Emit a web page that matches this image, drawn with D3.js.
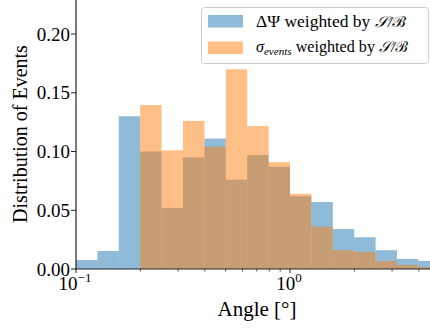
<!DOCTYPE html>
<html>
<head>
<meta charset="utf-8">
<style>
  body { margin: 0; background: #fff; }
</style>
</head>
<body>
<script src="https://cdn.jsdelivr.net/npm/d3@7"></script>
<script>
// bin edges (degrees), log-spaced
var binEdges = [0.1, 0.1259, 0.1585, 0.1995, 0.2512, 0.3162, 0.3981, 0.5012, 0.631,
                0.7943, 1.0, 1.2589, 1.5849, 1.9953, 2.5119, 3.1623, 3.9811, 5.0119];
var psiValues   = [0.0077, 0.0153, 0.130, 0.100, 0.052, 0.095, 0.111, 0.076, 0.097,
                   0.087, 0.062, 0.057, 0.034, 0.027, 0.016, 0.0085, 0.0068];
var sigmaValues = [0, 0, 0, 0.1395, 0.101, 0.126, 0.104, 0.170, 0.1216,
                   0.091, 0.064, 0.036, 0.016, 0.0145, 0.0068, 0.0034, 0.0017];
var yTicks = [0, 0.05, 0.10, 0.15, 0.20];
var xMajor = [0.1, 1];
var xMinor = [0.2, 0.3, 0.4, 0.5, 0.6, 0.7, 0.8, 0.9, 2, 3, 4];

var W = 430, H = 332;
var left = 76, bottom = 269;
var serif = "'Liberation Serif', 'Noto Serif', serif";

var x = d3.scaleLog().domain([0.1, 1]).range([left, 290]);
var y = d3.scaleLinear().domain([0, 0.2]).range([bottom, 34]);

var svg = d3.select('body').append('svg')
    .attr('width', W)
    .attr('height', H)
    .attr('font-family', serif);

svg.append('clipPath').attr('id', 'plot')
    .append('rect')
    .attr('x', left).attr('y', 0)
    .attr('width', W - left).attr('height', bottom);

var bars = svg.append('g').attr('clip-path', 'url(#plot)');

function drawHist(values, color) {
    bars.append('g')
        .selectAll('rect')
        .data(values)
        .enter()
        .append('rect')
        .attr('x', function(d, i) { return x(binEdges[i]); })
        .attr('width', function(d, i) { return x(binEdges[i + 1]) - x(binEdges[i]); })
        .attr('y', function(d) { return y(d); })
        .attr('height', function(d) { return y(0) - y(d); })
        .style('fill', color)
        .style('fill-opacity', 0.5);
}
drawHist(psiValues, '#1f77b4');
drawHist(sigmaValues, '#ff7f0e');

// spines
svg.append('line')
    .attr('x1', left).attr('x2', left)
    .attr('y1', 0).attr('y2', bottom + 0.5)
    .style('stroke', '#222').style('stroke-width', 1.2);
svg.append('line')
    .attr('x1', left - 0.5).attr('x2', W)
    .attr('y1', bottom).attr('y2', bottom)
    .style('stroke', '#222').style('stroke-width', 1.2);

// y axis
svg.selectAll('.ytick').data(yTicks).enter()
    .append('line')
    .attr('x1', left - 5).attr('x2', left)
    .attr('y1', function(d) { return y(d); })
    .attr('y2', function(d) { return y(d); })
    .style('stroke', '#222').style('stroke-width', 1);
svg.selectAll('.ylab').data(yTicks).enter()
    .append('text')
    .attr('x', left - 6)
    .attr('y', function(d) { return y(d) + 6.5; })
    .attr('text-anchor', 'end')
    .style('font-size', '19px')
    .text(function(d) { return d.toFixed(2); });

// x axis
svg.selectAll('.xmaj').data(xMajor).enter()
    .append('line')
    .attr('x1', function(d) { return x(d); })
    .attr('x2', function(d) { return x(d); })
    .attr('y1', bottom).attr('y2', bottom + 4)
    .style('stroke', '#222').style('stroke-width', 1);
svg.selectAll('.xmin').data(xMinor).enter()
    .append('line')
    .attr('x1', function(d) { return x(d); })
    .attr('x2', function(d) { return x(d); })
    .attr('y1', bottom).attr('y2', bottom + 2.5)
    .style('stroke', '#222').style('stroke-width', 0.8);

var xl = svg.selectAll('.xlab').data(xMajor).enter()
    .append('text')
    .attr('x', function(d) { return x(d) - 1; })
    .attr('y', 290)
    .attr('text-anchor', 'middle')
    .style('font-size', '19px');
xl.append('tspan').text('10');
xl.append('tspan')
    .attr('dy', -8)
    .style('font-size', '13px')
    .text(function(d) { return d < 1 ? '\u22121' : '0'; });

// axis labels
svg.append('text')
    .attr('x', 257).attr('y', 316)
    .attr('text-anchor', 'middle')
    .style('font-size', '21px')
    .text('Angle [\u00b0]');
svg.append('text')
    .attr('transform', 'translate(27,134) rotate(-90)')
    .attr('text-anchor', 'middle')
    .style('font-size', '20px')
    .text('Distribution of Events');

// legend
var lg = svg.append('g');
lg.append('rect')
    .attr('x', 201.5).attr('y', 7.5)
    .attr('width', 227).attr('height', 56)
    .attr('rx', 3)
    .style('fill', '#fff').style('fill-opacity', 0.8)
    .style('stroke', '#ccc').style('stroke-width', 1);
lg.append('rect')
    .attr('x', 208).attr('y', 15).attr('width', 35).attr('height', 12.5)
    .style('fill', '#1f77b4').style('fill-opacity', 0.5);
lg.append('rect')
    .attr('x', 208).attr('y', 41.5).attr('width', 35).attr('height', 12.5)
    .style('fill', '#ff7f0e').style('fill-opacity', 0.5);

var t1 = lg.append('text').attr('x', 256).attr('y', 27).style('font-size', '16px');
t1.append('tspan').text('\u0394\u03a8 weighted by ');
t1.append('tspan').attr('font-size', 15).style('font-style', 'italic').text('\ud835\udcae/\u212c');

var t2 = lg.append('text').attr('x', 256).attr('y', 52).style('font-size', '16px');
t2.append('tspan').style('font-style', 'italic').text('\u03c3');
t2.append('tspan').attr('dy', 3).style('font-style', 'italic').style('font-size', '11px').text('events');
t2.append('tspan').attr('dy', -3).text(' weighted by ');
t2.append('tspan').attr('font-size', 15).style('font-style', 'italic').text('\ud835\udcae/\u212c');

// squeeze the legend entries to the reference width
t1.attr('textLength', 150).attr('lengthAdjust', 'spacingAndGlyphs');
t2.attr('textLength', 152).attr('lengthAdjust', 'spacingAndGlyphs');
</script>
</body>
</html>
